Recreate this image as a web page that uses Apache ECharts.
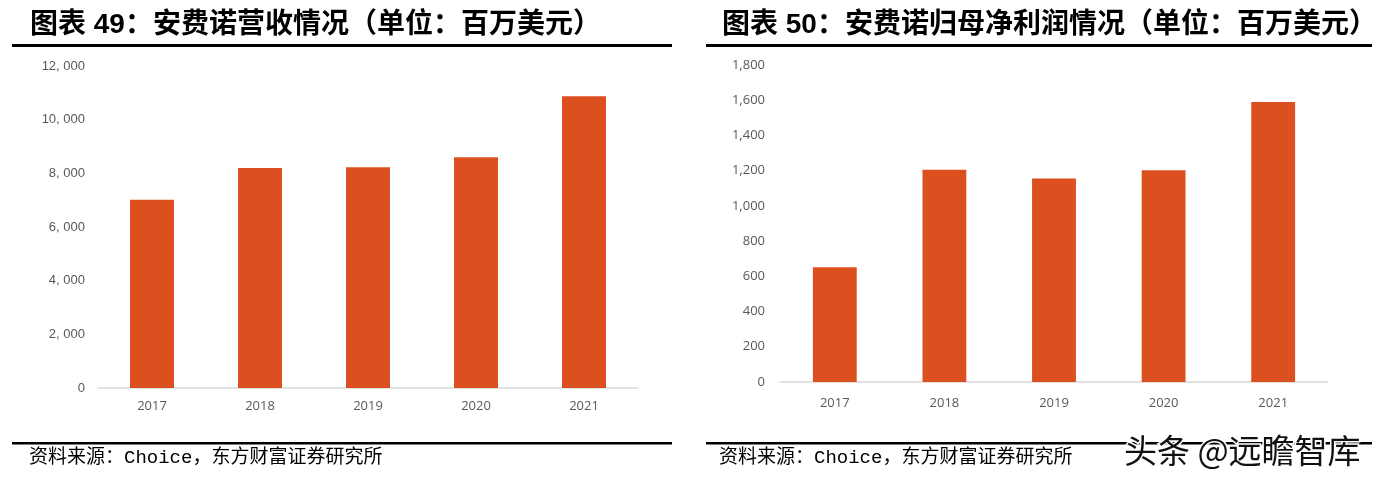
<!DOCTYPE html>
<html>
<head>
<meta charset="utf-8">
<script src="https://cdn.jsdelivr.net/npm/echarts@6/dist/echarts.min.js"></script>
<style>
html,body{margin:0;padding:0;background:#fff;}
#main{width:1391px;height:484px;}
</style>
</head>
<body>
<div id="main"></div>
<script>
const categories = ['2017', '2018', '2019', '2020', '2021'];
const revenue = [7011, 8202, 8225, 8599, 10876];
const netIncome = [651, 1205, 1155, 1203, 1590];
const leftTitle = '图表 49：安费诺营收情况（单位：百万美元）';
const rightTitle = '图表 50：安费诺归母净利润情况（单位：百万美元）';
const sourceText = '资料来源：Choice，东方财富证券研究所';
const watermark = '头条 @远瞻智库';

const barColor = '#DC4F1F';
const labelColor = '#595959';
const axisLineColor = '#D9D9D9';
const titleFont = 'bold 28px "Liberation Sans", "Noto Sans CJK SC", sans-serif';
const srcFont = '19px "Liberation Mono", "Noto Sans CJK SC", monospace';

function fmtLeft(v) {
  return String(v).replace(/\B(?=(\d{3})+(?!\d))/g, ', ');
}
function fmtRight(v) {
  return String(v).replace(/\B(?=(\d{3})+(?!\d))/g, ',');
}

const chart = echarts.init(document.getElementById('main'));
const xAxisCommon = {
  type: 'category',
  data: categories,
  axisTick: {show: false},
  axisLine: {lineStyle: {color: axisLineColor, width: 1.5}},
  axisLabel: {color: labelColor, fontSize: 13, fontFamily: '"Open Sans", "Liberation Sans", sans-serif'}
};
const yAxisCommon = {
  type: 'value',
  min: 0,
  axisLine: {show: false},
  axisTick: {show: false},
  splitLine: {show: false}
};

chart.setOption({
  animation: false,
  grid: [
    {left: 98, top: 66, width: 540, height: 322},
    {left: 780, top: 65, width: 548, height: 317}
  ],
  xAxis: [
    Object.assign({}, xAxisCommon, {gridIndex: 0, axisLabel: Object.assign({}, xAxisCommon.axisLabel, {margin: 12})}),
    Object.assign({}, xAxisCommon, {gridIndex: 1, axisLabel: Object.assign({}, xAxisCommon.axisLabel, {margin: 15})})
  ],
  yAxis: [
    Object.assign({}, yAxisCommon, {gridIndex: 0, max: 12000, interval: 2000,
      axisLabel: {color: labelColor, fontSize: 13, margin: 13, fontFamily: '"Liberation Sans", sans-serif', formatter: fmtLeft}}),
    Object.assign({}, yAxisCommon, {gridIndex: 1, max: 1800, interval: 200,
      axisLabel: {color: labelColor, fontSize: 13, margin: 15, fontFamily: '"Open Sans", "Liberation Sans", sans-serif', formatter: fmtRight}})
  ],
  series: [
    {type: 'bar', xAxisIndex: 0, yAxisIndex: 0, data: revenue, barWidth: '40.7%', itemStyle: {color: barColor}},
    {type: 'bar', xAxisIndex: 1, yAxisIndex: 1, data: netIncome, barWidth: '40%', itemStyle: {color: barColor}}
  ],
  graphic: [
    {type: 'text', x: 30, y: 25, style: {text: leftTitle, font: titleFont, fill: '#000', verticalAlign: 'middle'}},
    {type: 'text', x: 722, y: 25, style: {text: rightTitle, font: titleFont, fill: '#000', verticalAlign: 'middle'}},
    {type: 'rect', shape: {x: 12, y: 44, width: 660, height: 3}, style: {fill: '#000'}},
    {type: 'rect', shape: {x: 706, y: 44, width: 666, height: 3}, style: {fill: '#000'}},
    {type: 'rect', shape: {x: 12, y: 442, width: 660, height: 2.5}, style: {fill: '#000'}},
    {type: 'rect', shape: {x: 706, y: 442, width: 666, height: 2.5}, style: {fill: '#000'}},
    {type: 'text', x: 29, y: 458, style: {text: sourceText, font: srcFont, fill: '#000', verticalAlign: 'middle'}},
    {type: 'text', x: 719, y: 458, style: {text: sourceText, font: srcFont, fill: '#000', verticalAlign: 'middle'}},
    {type: 'text', x: 1124, y: 450, z: 100, style: {text: watermark, font: '33px "Noto Sans CJK SC", sans-serif', fill: '#111', stroke: '#fff', lineWidth: 3, verticalAlign: 'middle'}}
  ]
});
</script>
</body>
</html>
